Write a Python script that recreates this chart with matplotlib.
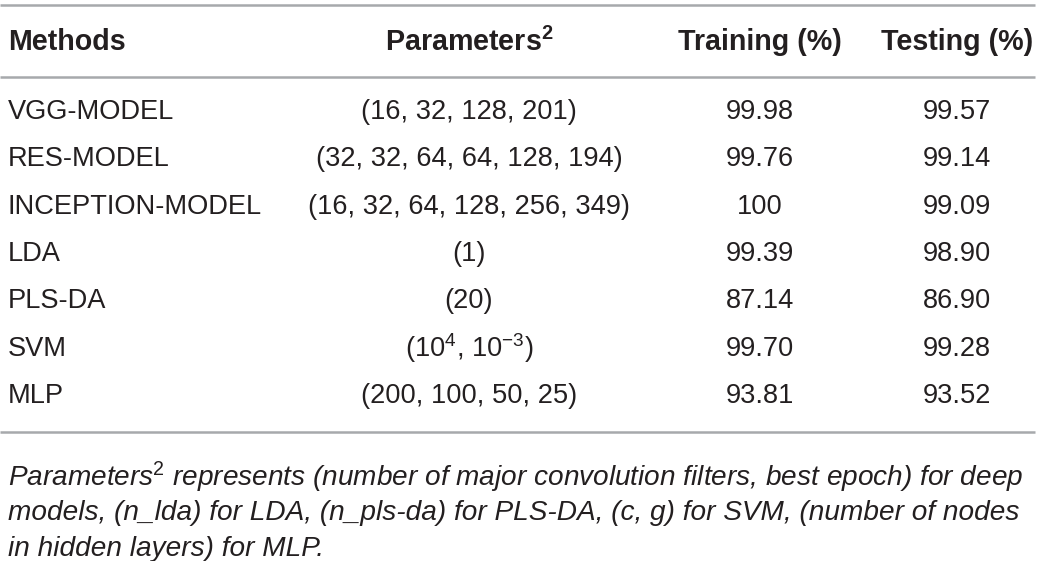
import matplotlib
matplotlib.use("Agg")
import matplotlib.pyplot as plt

plt.rcParams['font.family'] = ['Liberation Sans', 'DejaVu Sans']
plt.rcParams['mathtext.fontset'] = 'custom'
plt.rcParams['mathtext.rm'] = 'Liberation Sans'
plt.rcParams['mathtext.it'] = 'Liberation Sans:italic'
plt.rcParams['mathtext.bf'] = 'Liberation Sans:bold'

# table content
headers = ['Methods', r'Parameters$^{\mathbf{2}}$', 'Training (%)', 'Testing (%)']
methods = ['VGG-MODEL', 'RES-MODEL', 'INCEPTION-MODEL', 'LDA', 'PLS-DA', 'SVM', 'MLP']
params = ['(16, 32, 128, 201)', '(32, 32, 64, 64, 128, 194)', '(16, 32, 64, 128, 256, 349)',
          '(1)', '(20)', '(10$^{4}$, 10$^{-3}$)', '(200, 100, 50, 25)']
training = ['99.98', '99.76', '100', '99.39', '87.14', '99.70', '93.81']
testing = ['99.57', '99.14', '99.09', '98.90', '86.90', '99.28', '93.52']
footnote = [r'Parameters$^{\mathit{2}}$ represents (number of major convolution filters, best epoch) for deep',
            'models, (n_lda) for LDA, (n_pls-da) for PLS-DA, (c, g) for SVM, (number of nodes',
            'in hidden layers) for MLP.']

W, H = 1040, 561
fig = plt.figure(figsize=(W / 100, H / 100), dpi=100)
ax = fig.add_axes([0, 0, 1, 1])
ax.set_xlim(0, W)
ax.set_ylim(H, 0)
ax.axis('off')

fs = 19.6
txt_col = '#231f20'
line_col = '#a7a9ac'

# column x positions and alignment
col_x = [8, 469, 760, 957]
col_ha = ['left', 'center', 'center', 'center']

# rules
for y in [5, 77, 432]:
    ax.plot([0, 1035], [y, y], color=line_col, lw=1.8, solid_capstyle='butt')

# header
for x, ha, h in zip(col_x, col_ha, headers):
    ax.text(x, 42, h, ha=ha, va='center', fontsize=20.6, fontweight='bold', color=txt_col)

# rows
row_y0, row_dy = 112, 47.3
for i in range(len(methods)):
    y = row_y0 + i * row_dy
    cells = [methods[i], params[i], training[i], testing[i]]
    for x, ha, c in zip(col_x, col_ha, cells):
        ax.text(x, y, c, ha=ha, va='center', fontsize=fs, color=txt_col)

# footnote
for j, line in enumerate(footnote):
    ax.text(8, 477 + j * 36, line, ha='left', va='center', fontsize=20.2,
            style='italic', color=txt_col)

fig.savefig('out.png', dpi=100)
